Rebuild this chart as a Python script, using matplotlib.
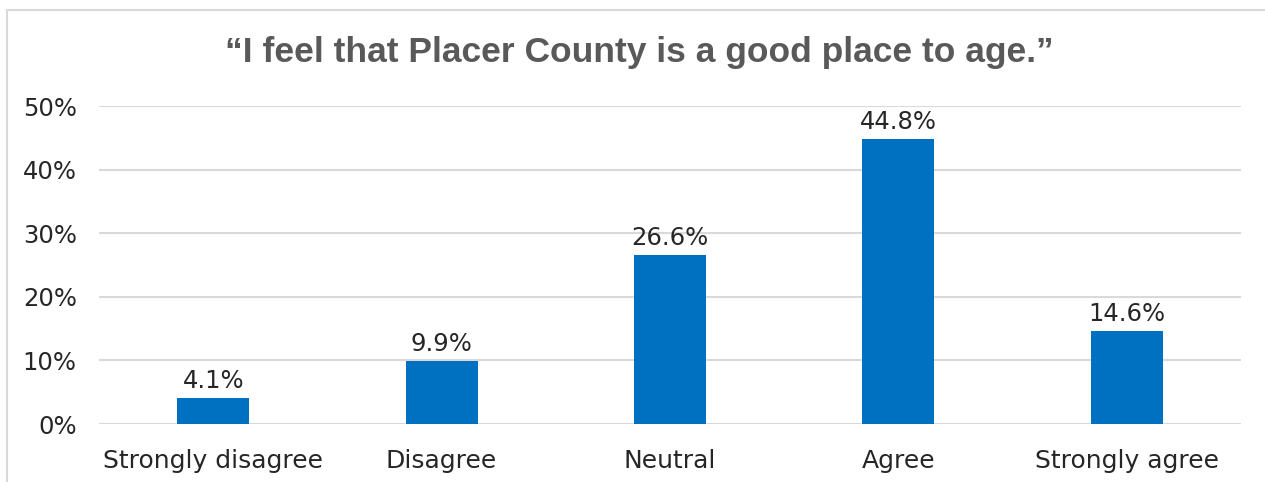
import numpy as np
import matplotlib.pyplot as plt
from matplotlib.patches import Rectangle

categories = ["Strongly disagree", "Disagree", "Neutral", "Agree", "Strongly agree"]
values = [4.1, 9.9, 26.6, 44.8, 14.6]
yticks = [0, 10, 20, 30, 40, 50]

fig = plt.figure(figsize=(12.65, 4.82), dpi=100)
ax = fig.add_axes([99/1265, 1-424/482, 1142/1265, 318/482])

# outer chart border
fig.patches.append(Rectangle((7/1265, -0.05), 1.2, 1-10/482+0.05, transform=fig.transFigure,
                             fill=False, edgecolor="#d9d9d9", linewidth=1.5))

x = np.arange(len(categories))
ax.bar(x, values, width=0.315, color="#0070c0", zorder=3)
for xi, v in zip(x, values):
    ax.text(xi, v + 0.8, f"{v:.1f}%", ha="center", va="bottom", fontsize=17.5,
            color="#262626")

ax.set_xlim(-0.5, len(categories) - 0.5)
ax.set_ylim(0, 50)
ax.set_yticks(yticks)
ax.set_yticklabels([f"{t}%" for t in yticks], fontsize=17.5, color="#262626")
ax.set_xticks(x)
ax.set_xticklabels(categories, fontsize=18, color="#262626")
ax.tick_params(length=0)
ax.tick_params(axis="y", pad=16)
ax.tick_params(axis="x", pad=18)
ax.grid(axis="y", color="#d9d9d9", linewidth=1.5, zorder=0)
for s in ax.spines.values():
    s.set_visible(False)

fig.text(639/1265, 1-52/482, "\u201cI feel that Placer County is a good place to age.\u201d",
         ha="center", va="center", fontsize=25.5, fontweight="bold", color="#595959",
         family="Liberation Sans")

fig.savefig("out.png", dpi=100)
